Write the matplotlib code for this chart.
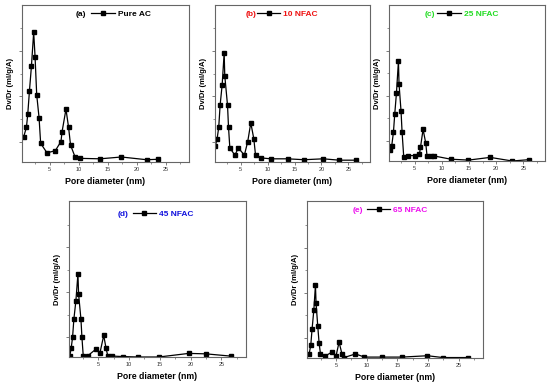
import matplotlib
matplotlib.use("Agg")
import matplotlib.pyplot as plt
from matplotlib.ticker import FixedLocator

plt.rcParams['font.family'] = ['Liberation Sans', 'DejaVu Sans']

# ---------------- data ----------------
xa = [0.55, 1.01, 1.24, 1.53, 1.87, 2.26, 2.5, 2.78, 3.19, 3.46, 4.56, 5.99, 6.96, 7.14,
      7.82, 8.27, 8.61, 9.42, 10.27, 13.7, 17.36, 21.7, 23.7]
ya = [0.56, 0.76, 1.05, 1.56, 2.10, 2.85, 2.31, 1.48, 0.97, 0.41, 0.20, 0.25, 0.45, 0.66,
      1.16, 0.76, 0.37, 0.10, 0.08, 0.07, 0.11, 0.05, 0.06]

xb = [0.32, 0.64, 0.94, 1.2, 1.58, 1.95, 2.06, 2.57, 2.76, 3.0, 3.94, 4.58, 5.7, 6.32,
      6.89, 7.45, 7.77, 8.76, 10.6, 13.7, 16.8, 20.3, 23.3, 26.4]
yb = [0.36, 0.51, 0.76, 1.25, 1.70, 2.40, 1.90, 1.25, 0.76, 0.31, 0.15, 0.31, 0.15, 0.45,
      0.86, 0.51, 0.15, 0.09, 0.07, 0.07, 0.05, 0.07, 0.04, 0.04]

xc = [0.52, 0.76, 1.07, 1.31, 1.62, 1.99, 2.10, 2.47, 2.66, 2.97, 3.84, 5.06, 5.87, 6.05,
      6.53, 7.03, 7.27, 7.95, 8.63, 11.64, 14.9, 18.9, 22.95, 26.1]
yc = [0.24, 0.34, 0.64, 1.04, 1.50, 2.21, 1.70, 1.10, 0.64, 0.08, 0.12, 0.12, 0.16, 0.30,
      0.70, 0.39, 0.10, 0.10, 0.11, 0.04, 0.02, 0.08, 0.0, 0.03]

xd = [0.39, 0.60, 0.83, 1.04, 1.37, 1.70, 1.81, 2.19, 2.35, 2.56, 3.33, 4.58, 5.29, 5.89,
      6.26, 6.54, 7.29, 8.99, 11.5, 14.86, 19.7, 22.5, 26.5]
yd = [0.03, 0.19, 0.44, 0.84, 1.25, 1.85, 1.40, 0.84, 0.44, 0.03, 0.03, 0.17, 0.10, 0.48,
      0.20, 0.03, 0.02, 0.01, 0.0, 0.0, 0.08, 0.07, 0.02]

xe = [0.59, 0.87, 1.08, 1.36, 1.63, 1.73, 2.01, 2.22, 2.45, 3.2, 4.3, 5.0, 5.49, 5.98,
      6.31, 8.17, 9.64, 12.47, 15.78, 19.93, 22.43, 26.5]
ye = [0.08, 0.29, 0.64, 1.05, 1.61, 1.21, 0.70, 0.34, 0.09, 0.04, 0.13, 0.05, 0.35, 0.08,
      0.01, 0.09, 0.02, 0.02, 0.02, 0.05, 0.01, 0.01]

panel_tags = ["(a)", "(b)", "(c)", "(d)", "(e)"]
series_names = ["Pure AC", "10 NFAC", "25 NFAC", "45 NFAC", "65 NFAC"]
xticks = [5, 10, 15, 20, 25]

# ---------------- layout ----------------
W, H = 550, 388
fig = plt.figure(figsize=(5.5, 3.88), dpi=100)

def rect(x0, x1, y0, y1):
    return [x0 / W, 1 - y1 / H, (x1 - x0) / W, (y1 - y0) / H]

boxes = [rect(22, 189, 5, 162), rect(215, 370, 5, 162), rect(389, 545, 5, 161),
         rect(69, 246, 201, 357), rect(307, 483, 201, 358)]
colors = ["black", "#ee1111", "#22dd22", "#1111dd", "#ee11ee"]
tag_x = [0.35, 0.23, 0.26, 0.305, 0.29]
leg_x = [0.415, 0.27, 0.31, 0.36, 0.34]
leg_y = [0.94, 0.94, 0.94, 0.915, 0.94]
ylims = [3.45, 3.45, 3.45, 3.47, 3.47]
datasets = [(xa, ya), (xb, yb), (xc, yc), (xd, yd), (xe, ye)]
spine_col = "#666666"

for i, (box, (xs, ys)) in enumerate(zip(boxes, datasets)):
    ax = fig.add_axes(box)
    ax.plot(xs, ys, color="black", lw=0.9, marker="s", ms=2.8,
            mfc="black", mec="black", label=series_names[i])
    ax.set_xlim(0.25, 29)
    ax.set_ylim(0, ylims[i])
    ax.xaxis.set_major_locator(FixedLocator(xticks))
    ax.xaxis.set_minor_locator(FixedLocator([2.5, 7.5, 12.5, 17.5, 22.5, 27.5]))
    ax.yaxis.set_major_locator(FixedLocator([0.44, 1.44, 2.44]))
    ax.yaxis.set_minor_locator(FixedLocator([0.94, 1.94, 2.94]))
    ax.set_yticklabels([])
    ax.tick_params(axis='both', which='major', length=2, width=0.6, color=spine_col,
                   labelsize=4, labelcolor="#333333", pad=1.5, direction='out')
    ax.tick_params(axis='both', which='minor', length=1.2, width=0.5, color=spine_col,
                   direction='out')
    for s in ax.spines.values():
        s.set_color(spine_col)
        s.set_linewidth(0.8)
    ax.set_xlabel("Pore diameter (nm)", fontsize=6.3, fontweight='bold', labelpad=4)
    ax.set_ylabel("Dv/Dr (ml/g/A)", fontsize=5.5, fontweight='bold', labelpad=1)
    ax.text(tag_x[i], leg_y[i], panel_tags[i], transform=ax.transAxes, ha='center',
            va='center', fontsize=6, fontweight='bold', color=colors[i])
    leg = ax.legend(loc='center left', bbox_to_anchor=(leg_x[i], leg_y[i]), frameon=False,
                    fontsize=6, handlelength=2.8, handletextpad=0.35, borderpad=0,
                    borderaxespad=0, markerscale=1.0)
    for t in leg.get_texts():
        t.set_color(colors[i])
        t.set_fontweight('bold')

fig.savefig("out.png", dpi=100)
